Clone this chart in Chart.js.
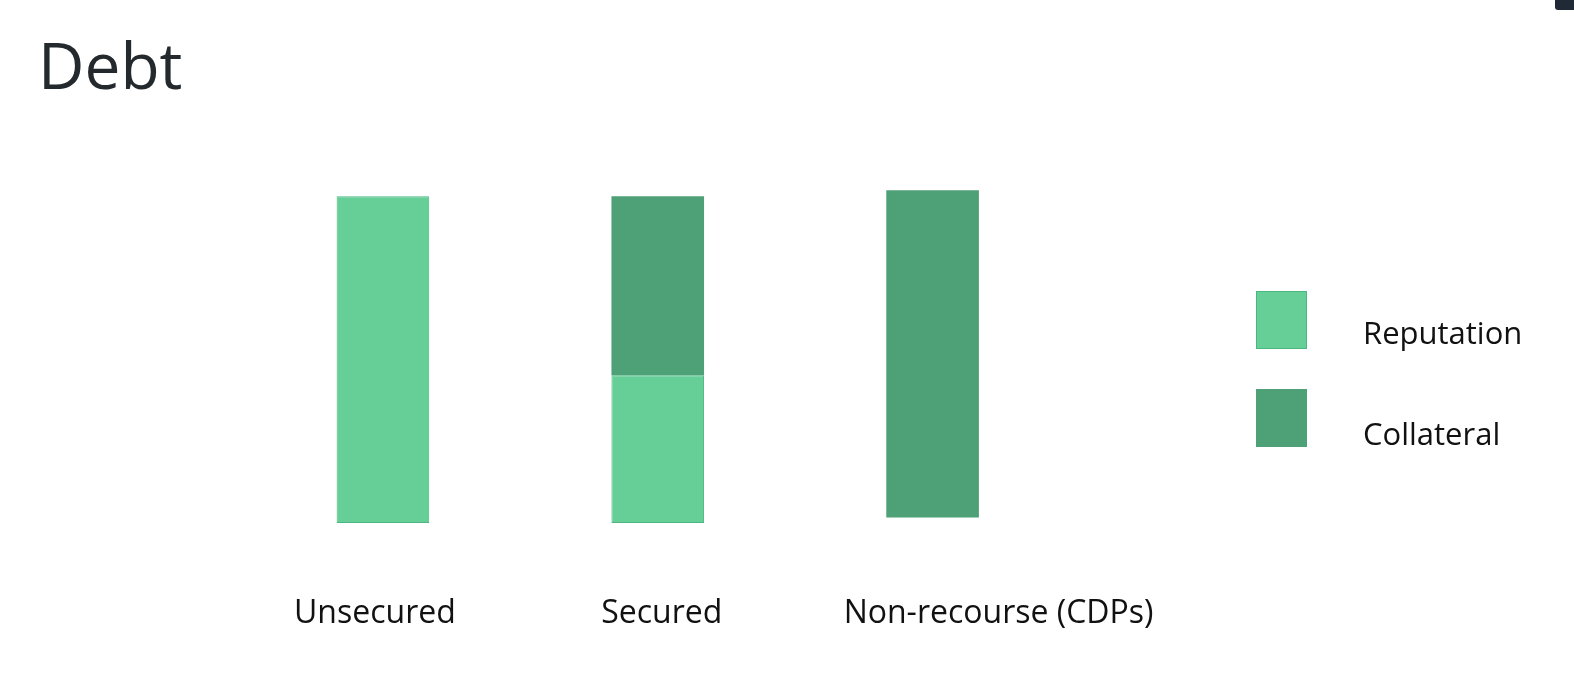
<!DOCTYPE html>
<html>
<head>
<meta charset="utf-8">
<script src="https://cdn.jsdelivr.net/npm/chart.js@4"></script>
<style>
  html, body { margin: 0; padding: 0; background: #fff; }
  body { width: 1574px; height: 694px; position: relative; overflow: hidden; font-family: "Open Sans", sans-serif; }
  #title { position: absolute; left: 38px; top: 33px; font-size: 64px; line-height: 64px; color: #24292d; }
  #wrap { position: absolute; left: 0; top: 0; width: 1574px; height: 694px; }
  #legend { position: absolute; left: 1256px; top: 291px; }
  .lg-item { position: relative; height: 98px; }
  .lg-box { position: absolute; left: 0; top: 0; width: 51px; height: 58px; box-sizing: border-box; }
  .lg-text { position: absolute; left: 107px; top: 26px; font-size: 31px; line-height: 31px; color: #111; white-space: nowrap; }
  .lg-item + .lg-item .lg-text { top: 29px; }
  #tab { position: absolute; right: 0; top: 0; width: 19px; height: 10px; background: #1f2a36; border-bottom-left-radius: 3px; }
</style>
</head>
<body>
<div id="title">Debt</div>
<div id="tab"></div>
<div id="wrap"><canvas id="c"></canvas></div>
<div id="legend"></div>
<script>
// 借入の種類ごとに、信用(Reputation)と担保(Collateral)の比率を縦棒で示す
const CATEGORIES = ["Unsecured", "Secured", "Non-recourse (CDPs)"];
const REPUTATION = [[0, 100], [0, 45.2], null];
const COLLATERAL = [null, [45.2, 100], [1.7, 101.8]];
const SERIES_LABELS = ["Reputation", "Collateral"];
const Y_MAX = 110;

const LIGHT = "#66cf98";
const LIGHT_EDGE = "#4cb681";
const DARK = "#4ea077";
const LABEL_SHIFT = [-8, 4, 66]; // 図の文字位置は棒の中心から少しずれている

const catLabelPlugin = {
  id: "catLabels",
  afterDraw(chart) {
    const ctx = chart.ctx;
    const x = chart.scales.x;
    ctx.save();
    ctx.font = "32px 'Open Sans', sans-serif";
    ctx.fillStyle = "#111";
    ctx.textAlign = "center";
    ctx.textBaseline = "alphabetic";
    CATEGORIES.forEach((c, i) => {
      ctx.fillText(c, x.getPixelForValue(i) + LABEL_SHIFT[i], chart.chartArea.bottom + 99.5);
    });
    ctx.restore();
  },
};

const chart = new Chart(document.getElementById("c"), {
  type: "bar",
  data: {
    labels: CATEGORIES,
    datasets: [
      { label: SERIES_LABELS[0], data: REPUTATION, backgroundColor: LIGHT, borderColor: LIGHT_EDGE, borderWidth: 1, borderSkipped: false, grouped: false },
      { label: SERIES_LABELS[1], data: COLLATERAL, backgroundColor: DARK, borderWidth: 0, grouped: false },
    ],
  },
  options: {
    responsive: true,
    maintainAspectRatio: false,
    animation: false,
    layout: { padding: { left: 245.5, right: 504, top: 163.5, bottom: 171 } },
    datasets: { bar: { barPercentage: 0.337, categoryPercentage: 1 } },
    plugins: { legend: { display: false }, tooltip: { enabled: false } },
    scales: {
      x: { display: false },
      y: { display: false, min: 0, max: Y_MAX },
    },
  },
  plugins: [catLabelPlugin],
});

// 凡例はデータセットから組み立てる
document.getElementById("legend").innerHTML = chart.data.datasets
  .map((d) => {
    const border = d.borderWidth ? `border:1px solid ${d.borderColor};` : "";
    return `<div class="lg-item"><div class="lg-box" style="background:${d.backgroundColor};${border}"></div><div class="lg-text">${d.label}</div></div>`;
  })
  .join("");
</script>
</body>
</html>
